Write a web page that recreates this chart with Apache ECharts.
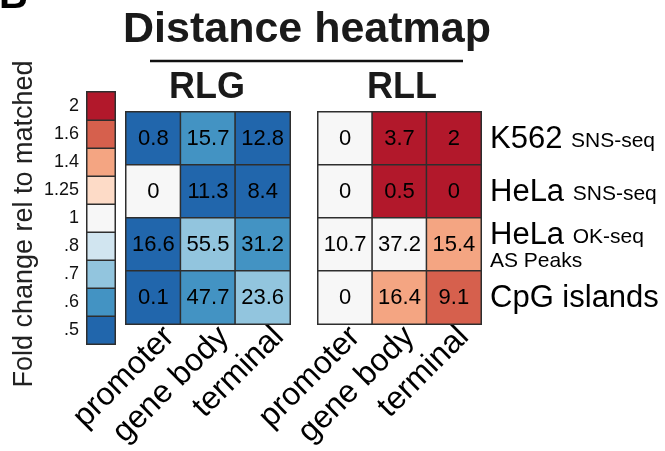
<!DOCTYPE html>
<html>
<head>
<meta charset="utf-8">
<script src="https://cdn.jsdelivr.net/npm/echarts@6/dist/echarts.min.js"></script>
<style>
  html, body { margin: 0; padding: 0; background: #ffffff; }
  #chart { width: 665px; height: 451px; }
</style>
</head>
<body>
<div id="chart"></div>
<script>
// Genomic regions (columns) and datasets (rows)
const regions = ['promoter', 'gene body', 'terminal'];
const rowKeys = ['K562 SNS-seq', 'HeLa SNS-seq', 'HeLa OK-seq AS Peaks', 'CpG islands'];
const rowMain = ['K562', 'HeLa', 'HeLa', 'CpG islands'];
const rowAssay = ['SNS-seq', 'SNS-seq', 'OK-seq', ''];
const rowNote = ['', '', 'AS Peaks', ''];

// Numbers printed inside each cell
const rlgValues = [
  [0.8, 15.7, 12.8],
  [0, 11.3, 8.4],
  [16.6, 55.5, 31.2],
  [0.1, 47.7, 23.6]
];
const rllValues = [
  [0, 3.7, 2],
  [0, 0.5, 0],
  [10.7, 37.2, 15.4],
  [0, 16.4, 9.1]
];

// Fold change rel to matched, which sets each cell's colour
const rlgFold = [
  [0.5, 0.6, 0.5],
  [1, 0.5, 0.5],
  [0.5, 0.7, 0.6],
  [0.5, 0.6, 0.7]
];
const rllFold = [
  [1, 2, 2],
  [1, 2, 2],
  [1, 1, 1.4],
  [1, 1.4, 1.6]
];

// Colour scale levels (bottom to top) and their tick labels
const foldLevels = [0.5, 0.6, 0.7, 0.8, 1, 1.25, 1.4, 1.6, 2];
const foldTicks = ['.5', '.6', '.7', '.8', '1', '1.25', '1.4', '1.6', '2'];
const foldColors = ['#2166ac', '#4393c3', '#92c5de', '#d1e5f0', '#f7f7f7',
                    '#fddbc7', '#f4a582', '#d6604d', '#b2182b'];

const FONT = "'Liberation Sans', Arial, Helvetica, sans-serif";

function cells(fold, vals) {
  const out = [];
  fold.forEach((row, r) => row.forEach((f, c) => out.push([c, r, f, vals[r][c]])));
  return out;
}
const scaleCells = foldLevels.map((f, i) => [0, i, f]);

const cellBorder = { borderColor: '#2e2e2e', borderWidth: 1.5 };
const hiddenAxis = {
  axisLine: { show: false }, axisTick: { show: false },
  axisLabel: { show: false }, splitLine: { show: false }
};
const regionLabel = { interval: 0, rotate: 45, margin: 23, fontSize: 32, color: '#000', fontFamily: FONT };
const cellLabel = { show: true, formatter: p => String(p.value[3]), fontSize: 22, color: '#000', fontFamily: FONT };

const chart = echarts.init(document.getElementById('chart'), null, { renderer: 'canvas' });

chart.setOption({
  animation: false,
  backgroundColor: '#ffffff',
  textStyle: { fontFamily: FONT },
  grid: [
    { left: 126, top: 112, width: 164, height: 212 },   // RLG
    { left: 318, top: 112, width: 163, height: 212 },   // RLL
    { left: 87, top: 92, width: 28, height: 252 },      // colour scale
    { left: 142, top: 112, width: 164, height: 212 },   // RLG region labels
    { left: 328, top: 112, width: 163, height: 212 }    // RLL region labels
  ],
  xAxis: [
    Object.assign({ gridIndex: 0, type: 'category', data: regions }, hiddenAxis),
    Object.assign({ gridIndex: 1, type: 'category', data: regions }, hiddenAxis),
    Object.assign({ gridIndex: 2, type: 'category', data: ['fold'] }, hiddenAxis),
    {
      gridIndex: 3, type: 'category', data: regions,
      axisLine: { show: false }, axisTick: { show: false }, splitLine: { show: false },
      axisLabel: regionLabel
    },
    {
      gridIndex: 4, type: 'category', data: regions,
      axisLine: { show: false }, axisTick: { show: false }, splitLine: { show: false },
      axisLabel: regionLabel
    }
  ],
  yAxis: [
    Object.assign({ gridIndex: 0, type: 'category', data: rowKeys, inverse: true }, hiddenAxis),
    {
      gridIndex: 1, type: 'category', data: rowKeys, inverse: true, position: 'right',
      axisLine: { show: false }, axisTick: { show: false }, splitLine: { show: false },
      axisLabel: {
        interval: 0, margin: 9, align: 'left',
        formatter: (v, i) => {
          let s = '{a|' + rowMain[i] + '}';
          if (rowAssay[i]) s += '{a| }{b|' + rowAssay[i] + '}';
          if (rowNote[i]) s += '\n{c|' + rowNote[i] + '}';
          return s;
        },
        rich: {
          a: { fontSize: 31, color: '#000', fontFamily: FONT, lineHeight: 33, verticalAlign: 'bottom' },
          b: { fontSize: 21, color: '#000', fontFamily: FONT, lineHeight: 33, verticalAlign: 'bottom', padding: [0, 0, 3, 0] },
          c: { fontSize: 21, color: '#000', fontFamily: FONT, lineHeight: 20 }
        }
      }
    },
    {
      gridIndex: 2, type: 'category', data: foldTicks,
      axisLine: { show: false }, axisTick: { show: false }, splitLine: { show: false },
      axisLabel: { interval: 0, margin: 8, fontSize: 18, color: '#111', fontFamily: FONT }
    },
    Object.assign({ gridIndex: 3, type: 'category', data: rowKeys, inverse: true }, hiddenAxis),
    Object.assign({ gridIndex: 4, type: 'category', data: rowKeys, inverse: true }, hiddenAxis)
  ],
  visualMap: {
    type: 'piecewise', show: false, dimension: 2, seriesIndex: [0, 1, 2],
    pieces: foldLevels.map((v, i) => ({ value: v, color: foldColors[i] }))
  },
  series: [
    {
      name: 'RLG', type: 'heatmap', xAxisIndex: 0, yAxisIndex: 0,
      data: cells(rlgFold, rlgValues), itemStyle: cellBorder,
      label: cellLabel, emphasis: { disabled: true }
    },
    {
      name: 'RLL', type: 'heatmap', xAxisIndex: 1, yAxisIndex: 1,
      data: cells(rllFold, rllValues), itemStyle: cellBorder,
      label: cellLabel, emphasis: { disabled: true }
    },
    {
      name: 'scale', type: 'heatmap', xAxisIndex: 2, yAxisIndex: 2,
      data: scaleCells, itemStyle: cellBorder, label: { show: false },
      emphasis: { disabled: true }
    }
  ],
  graphic: [
    { type: 'text', x: -1, y: -3,
      style: { text: 'B', font: 'bold 40px ' + FONT, fill: '#000', align: 'left', verticalAlign: 'middle' } },
    { type: 'text', x: 307, y: 30,
      style: { text: 'Distance heatmap', font: 'bold 43px ' + FONT, fill: '#1a1a1a', align: 'center', verticalAlign: 'middle' } },
    { type: 'line', shape: { x1: 150, y1: 61, x2: 463, y2: 61 },
      style: { stroke: '#111', lineWidth: 2.5 } },
    { type: 'text', x: 207, y: 88,
      style: { text: 'RLG', font: 'bold 36px ' + FONT, fill: '#1a1a1a', align: 'center', verticalAlign: 'middle' } },
    { type: 'text', x: 402, y: 88,
      style: { text: 'RLL', font: 'bold 36px ' + FONT, fill: '#1a1a1a', align: 'center', verticalAlign: 'middle' } },
    { type: 'text', x: 25, y: 224, rotation: Math.PI / 2,
      style: { text: 'Fold change rel to matched', font: '27px ' + FONT, fill: '#222', align: 'center', verticalAlign: 'middle' } }
  ]
});
</script>
</body>
</html>
